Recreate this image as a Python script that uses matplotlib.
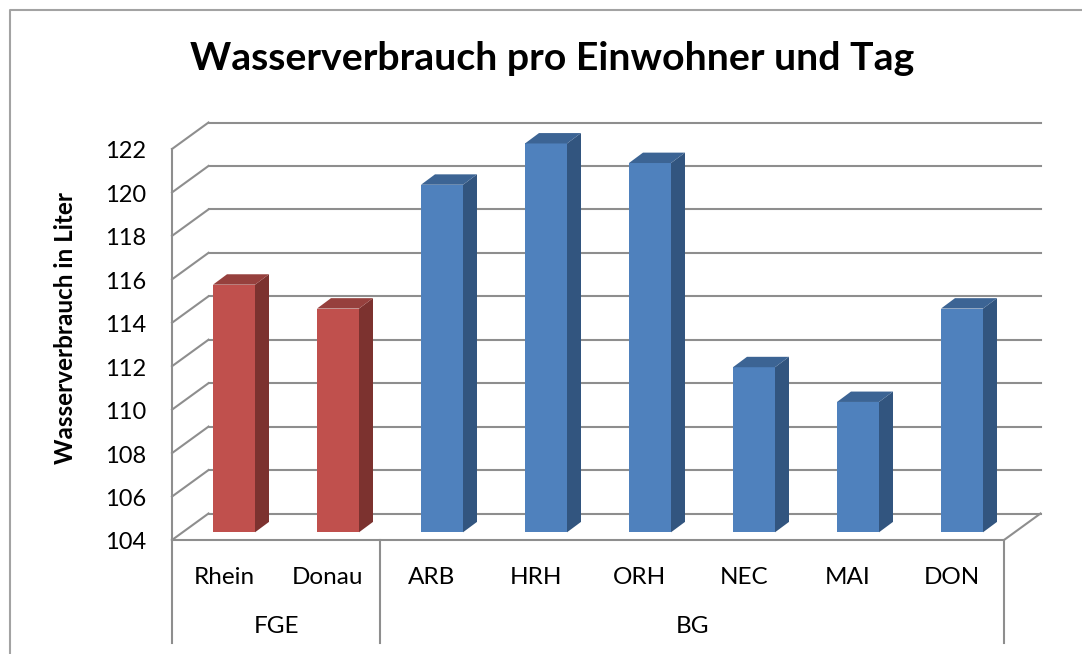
import matplotlib
matplotlib.use("Agg")
import matplotlib.pyplot as plt

plt.rcParams['font.family'] = ['Lato', 'DejaVu Sans']

# data
categories = ["Rhein", "Donau", "ARB", "HRH", "ORH", "NEC", "MAI", "DON"]
values = [115.4, 114.3, 120.0, 121.9, 121.0, 111.6, 110.0, 114.3]
groups = ["FGE", "FGE", "BG", "BG", "BG", "BG", "BG", "BG"]
y_ticks = list(range(104, 123, 2))

W, H = 1082, 654
X0, X1 = 172, 1004  # front plane in pixels
Y0, Y1 = 540, 149
SLOT_PX = (X1 - X0) / len(categories)
UNIT_PX = (Y0 - Y1) / (y_ticks[-1] - y_ticks[0])

# the fake 3d depth, converted to data units
WALL_DX = 36.5 / SLOT_PX
WALL_DY = 26.5 / UNIT_PX
BAR_OFF_X = 41 / SLOT_PX
BAR_OFF_Y = 7.7 / UNIT_PX
BAR_DX = 14 / SLOT_PX
BAR_DY = 10.4 / UNIT_PX
BAR_W = 42 / SLOT_PX

GRID = "#8e8e8e"
FRAME = "#a3a3a3"
LW = 1.5
colors = {"FGE": ("#c0504d", "#7c322f", "#96403d"), "BG": ("#4f81bd", "#32557f", "#3c6494")}

fig = plt.figure(figsize=(W / 100, H / 100), dpi=100)
ax = fig.add_axes([X0 / W, 1 - Y0 / H, (X1 - X0) / W, (Y0 - Y1) / H])
ax.set_xlim(0, len(categories))
ax.set_ylim(y_ticks[0], y_ticks[-1])
ax.axis("off")

# outer chart frame
fig.add_artist(plt.Line2D([9.5 / W, 9.5 / W, 1], [0, 1 - 9.5 / H, 1 - 9.5 / H], color=FRAME, lw=1.5))

n = len(categories)
# back wall grid and left wall
for t in y_ticks:
    ax.plot([WALL_DX, n + WALL_DX], [t + WALL_DY, t + WALL_DY], color=GRID, lw=LW, clip_on=False, zorder=1)
    ax.plot([0, WALL_DX], [t, t + WALL_DY], color=GRID, lw=LW, clip_on=False, zorder=1)
    ax.text(-26 / SLOT_PX, t - 3 / UNIT_PX, str(t), ha="right", va="center", fontsize=17, color="black")

# floor and axis lines
ax.plot([0, 0], [y_ticks[0], y_ticks[-1]], color=GRID, lw=LW, clip_on=False, zorder=1)
ax.plot([0, n, n + WALL_DX], [y_ticks[0], y_ticks[0], y_ticks[0] + WALL_DY], color=GRID, lw=LW, clip_on=False, zorder=1)

# bars: front face, side face, top face
for i, v in enumerate(values):
    face, side, top = colors[groups[i]]
    xl = i + BAR_OFF_X
    xr = xl + BAR_W
    base = y_ticks[0] + BAR_OFF_Y
    vt = v + BAR_OFF_Y
    ax.bar(xl, v - y_ticks[0], width=BAR_W, bottom=base, align="edge", color=face, clip_on=False, zorder=3)
    ax.fill([xr, xr + BAR_DX, xr + BAR_DX, xr], [base, base + BAR_DY, vt + BAR_DY, vt], color=side, lw=0, clip_on=False, zorder=3)
    ax.fill([xl, xl + BAR_DX, xr + BAR_DX, xr], [vt, vt + BAR_DY, vt + BAR_DY, vt], color=top, lw=0, clip_on=False, zorder=3)
    ax.text(i + 0.5, y_ticks[0] - 37 / UNIT_PX, categories[i], ha="center", va="center", fontsize=17.5, color="black")

# two level category axis
axis_bottom = y_ticks[0] - 103 / UNIT_PX
seps = [0, groups.count("FGE"), n]
for s in seps:
    ax.plot([s, s], [y_ticks[0], axis_bottom], color=GRID, lw=LW, clip_on=False, zorder=1)
for a, b, name in zip(seps[:-1], seps[1:], ["FGE", "BG"]):
    ax.text((a + b) / 2, y_ticks[0] - 87 / UNIT_PX, name, ha="center", va="center", fontsize=17.5, color="black")

fig.text(552 / W, 1 - 59 / H, "Wasserverbrauch pro Einwohner und Tag", ha="center", va="center",
         fontsize=28.3, fontweight="bold", color="black")
fig.text(66 / W, 1 - 328 / H, "Wasserverbrauch in Liter", rotation=90, ha="center", va="center",
         fontsize=17.5, fontweight="bold", color="black")

fig.savefig("out.png", dpi=100)
